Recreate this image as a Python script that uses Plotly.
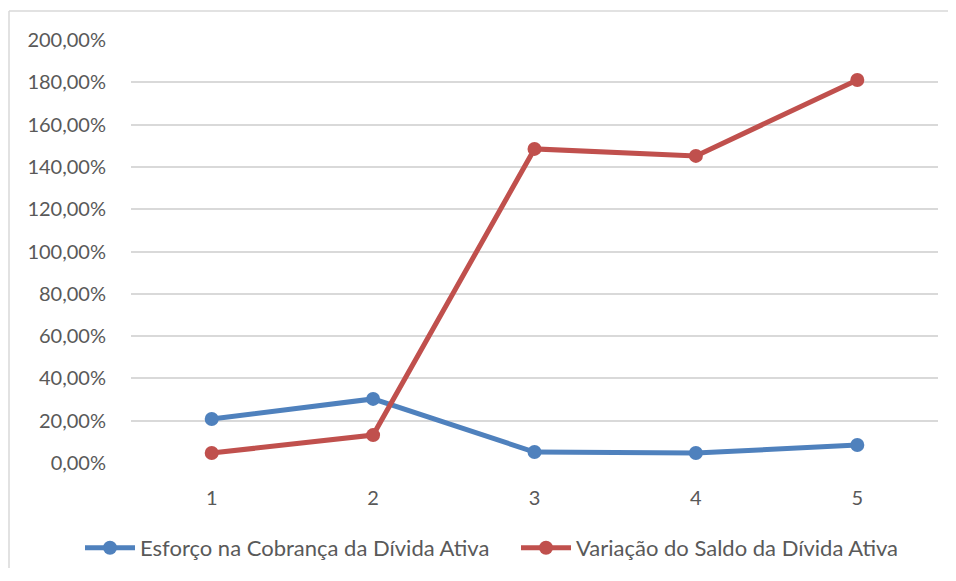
import plotly.graph_objects as go

categories = ["1", "2", "3", "4", "5"]
esforco = [0.208, 0.303, 0.052, 0.047, 0.085]
variacao = [0.047, 0.132, 1.485, 1.452, 1.811]
y_ticks = [0, 0.2, 0.4, 0.6, 0.8, 1.0, 1.2, 1.4, 1.6, 1.8, 2.0]

FONT = "Lato"
PLOT_W = 807
PLOT_H = 423
ML, MT = 123, 32
FIG_W, FIG_H = 940, 560
MB = FIG_H - MT - PLOT_H
fig = go.Figure()
fig.add_trace(go.Scatter(x=categories, y=esforco, mode="lines+markers",
                         name="Esforço na Cobrança da Dívida Ativa",
                         line=dict(color="#4F81BD", width=5),
                         marker=dict(size=14, color="#4F81BD")))
fig.add_trace(go.Scatter(x=categories, y=variacao, mode="lines+markers",
                         name="Variação do Saldo da Dívida Ativa",
                         line=dict(color="#C0504D", width=5),
                         marker=dict(size=14, color="#C0504D")))

frame = dict(color="#D9D9D9", width=1.5)
fx = -(ML - 1) / PLOT_W
fy = 1 + (MT - 3) / PLOT_H
fig.update_layout(
    width=FIG_W, height=FIG_H,
    margin=dict(l=ML, r=FIG_W - ML - PLOT_W, t=MT, b=MB, autoexpand=False),
    paper_bgcolor="white", plot_bgcolor="white",
    separators=",.",
    font=dict(family=FONT, size=20, color="#595959"),
    showlegend=True,
    legend=dict(orientation="h", x=(72 - ML) / PLOT_W, xanchor="left",
                y=-85 / PLOT_H, yanchor="middle",
                itemwidth=50, entrywidth=371, entrywidthmode="pixels",
                font=dict(size=22, color="#595959")),
    xaxis=dict(type="category", range=[-0.5, 4.5], showgrid=False, zeroline=False,
               showline=False, ticks="outside", ticklen=17, tickcolor="rgba(0,0,0,0)",
               tickfont=dict(size=20, color="#595959"), automargin=False),
    yaxis=dict(range=[0, 2.0], tickvals=y_ticks, tickformat=".2%", showgrid=True,
               gridcolor="#D9D9D9", gridwidth=1.5, zeroline=False, showline=False,
               ticks="outside", ticklen=20, tickcolor="rgba(0,0,0,0)",
               tickfont=dict(size=20, color="#595959"), automargin=False),
    shapes=[
        dict(type="line", xref="paper", yref="paper",
             x0=fx, x1=fx, y0=-MB / PLOT_H, y1=fy, line=frame, layer="below"),
        dict(type="line", xref="paper", yref="paper",
             x0=fx, x1=(FIG_W - ML) / PLOT_W, y0=fy, y1=fy, line=frame, layer="below"),
    ],
)
fig.write_html("out.html")
